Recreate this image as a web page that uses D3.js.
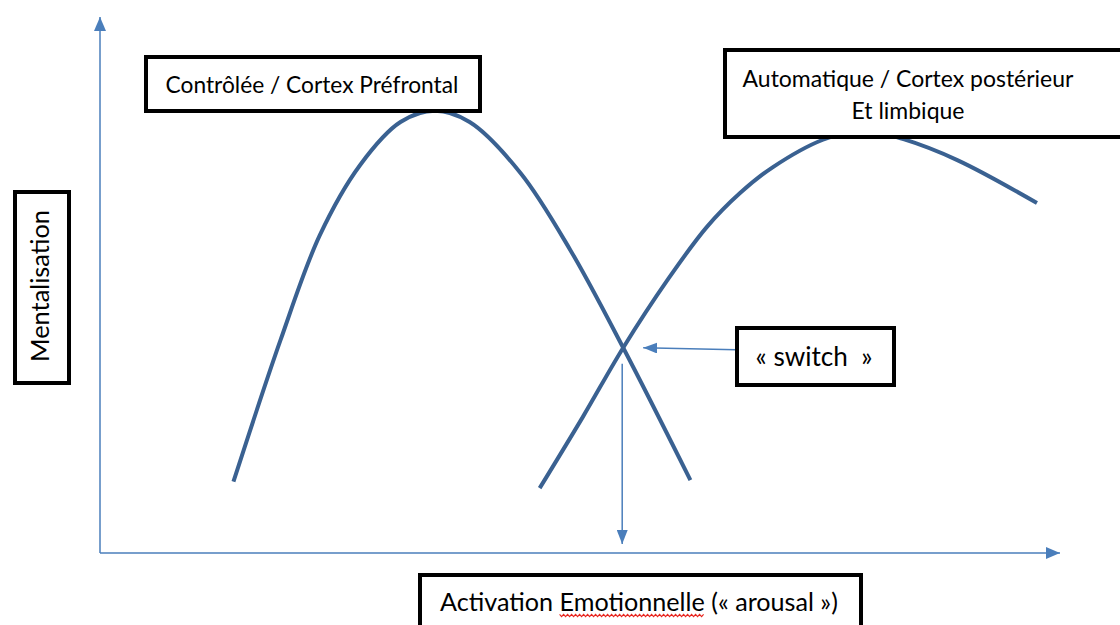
<!DOCTYPE html>
<html>
<head>
<meta charset="utf-8">
<script src="https://cdn.jsdelivr.net/npm/d3@7"></script>
<style>
  html, body { margin: 0; padding: 0; background: #fff; }
  svg text { font-family: Lato, "Open Sans", sans-serif; fill: #000; }
</style>
</head>
<body>
<div id="chart"></div>
<script>
// ---- data (arousal on x, mentalisation on y, arbitrary 0-10 units)
var controleeX = [1.39, 1.88, 2.29, 2.71, 3.13, 3.49, 3.85, 4.38, 4.90, 5.45, 6.15];
var controleeY = [1.33, 3.97, 5.93, 7.24, 8.04, 8.25, 8.04, 7.09, 5.65, 3.83, 1.36];

var automatiqueX = [4.58, 5.03, 5.45, 5.91, 6.32, 6.67, 7.01, 7.53, 7.95, 8.37, 8.93, 9.76];
var automatiqueY = [1.21, 2.54, 3.83, 5.09, 6.08, 6.72, 7.20, 7.71, 7.89, 7.72, 7.33, 6.53];

var switchPoint = [5.45, 3.83];

var labels = {
  y: "Mentalisation",
  x: ["Activation ", "Emotionnelle", " (« arousal »)"],
  controlee: ["Contrôlée / Cortex Préfrontal"],
  automatique: ["Automatique / Cortex postérieur", "Et limbique"],
  sw: "« switch  »"
};

var width = 1120, height = 625;
var axisBlue = "#4a7ebb", curveBlue = "#3a6191";

var svg = d3.select("#chart").append("svg")
  .attr("width", width)
  .attr("height", height);

var x = d3.scaleLinear().domain([0, 10]).range([100, 1060]);
var y = d3.scaleLinear().domain([0, 10]).range([553, 17]);

// arrow heads
var defs = svg.append("defs");
function arrowMarker(id, len, half) {
  defs.append("marker")
    .attr("id", id)
    .attr("markerUnits", "userSpaceOnUse")
    .attr("viewBox", `0 ${-half} ${len} ${half * 2}`)
    .attr("refX", len).attr("refY", 0)
    .attr("markerWidth", len).attr("markerHeight", half * 2)
    .attr("orient", "auto")
    .append("path")
    .attr("d", `M0,${-half}L${len},0L0,${half}Z`)
    .attr("fill", axisBlue);
}
arrowMarker("axisHead", 14, 6);
arrowMarker("smallHead", 14, 5.5);

// ---- axes (plain arrows, no ticks)
svg.append("line")
  .attr("x1", x(0)).attr("y1", y(0))
  .attr("x2", x(0)).attr("y2", y(10))
  .attr("stroke", axisBlue).attr("stroke-width", 1.5)
  .attr("marker-end", "url(#axisHead)");
svg.append("line")
  .attr("x1", x(0)).attr("y1", y(0))
  .attr("x2", x(10)).attr("y2", y(0))
  .attr("stroke", axisBlue).attr("stroke-width", 1.5)
  .attr("marker-end", "url(#axisHead)");

// ---- curves
var line = d3.line()
  .x(d => x(d[0]))
  .y(d => y(d[1]))
  .curve(d3.curveCatmullRom.alpha(0.5));

[[controleeX, controleeY], [automatiqueX, automatiqueY]].forEach(function(s) {
  svg.append("path")
    .datum(d3.zip(s[0], s[1]))
    .attr("d", line)
    .attr("fill", "none")
    .attr("stroke", curveBlue)
    .attr("stroke-width", 4);
});

// ---- switch arrows
var sx = x(switchPoint[0]), sy = y(switchPoint[1]);
svg.append("line")
  .attr("x1", sx - 1).attr("y1", sy + 16)
  .attr("x2", sx - 1).attr("y2", y(0) - 9)
  .attr("stroke", axisBlue).attr("stroke-width", 1.5)
  .attr("marker-end", "url(#smallHead)");
svg.append("line")
  .attr("x1", 736).attr("y1", sy + 2)
  .attr("x2", sx + 20).attr("y2", sy)
  .attr("stroke", axisBlue).attr("stroke-width", 1.5)
  .attr("marker-end", "url(#smallHead)");

// ---- boxes with text
function box(x0, y0, w, h) {
  return svg.append("rect")
    .attr("x", x0).attr("y", y0)
    .attr("width", w).attr("height", h)
    .attr("fill", "#fff")
    .attr("stroke", "#000")
    .attr("stroke-width", 4);
}

// shrink/grow font so a text spans the wanted width
function fit(t, w) {
  var fs = parseFloat(t.style("font-size"));
  var len = t.node().getComputedTextLength();
  t.style("font-size", (fs * w / len).toFixed(2) + "px");
}

box(146, 57, 334, 54);
var t1 = svg.append("text")
  .attr("x", 312).attr("y", 93)
  .attr("text-anchor", "middle")
  .style("font-size", "22px")
  .text(labels.controlee[0]);
fit(t1, 293);

box(725, 50, 400, 87);
var t2 = svg.append("text")
  .attr("x", 908).attr("y", 87)
  .attr("text-anchor", "middle")
  .style("font-size", "22px")
  .text(labels.automatique[0]);
fit(t2, 331);
svg.append("text")
  .attr("x", 908).attr("y", 119)
  .attr("text-anchor", "middle")
  .style("font-size", t2.style("font-size"))
  .text(labels.automatique[1]);

box(15, 192, 54, 191);
var ty = svg.append("text")
  .attr("transform", "translate(49,286) rotate(-90)")
  .attr("text-anchor", "middle")
  .style("font-size", "22px")
  .text(labels.y);
fit(ty, 152);

box(737, 328, 157, 57);
var ts = svg.append("text")
  .attr("x", 814).attr("y", 366)
  .attr("text-anchor", "middle")
  .style("font-size", "22px")
  .style("white-space", "pre")
  .text(labels.sw);
fit(ts, 117);

box(420, 575, 441, 60);
var tx = svg.append("text")
  .attr("x", 639).attr("y", 611)
  .attr("text-anchor", "middle")
  .style("font-size", "22px")
  .style("white-space", "pre");
tx.selectAll("tspan").data(labels.x).enter().append("tspan").text(d => d);
fit(tx, 398);

// spell-check squiggle under the second word
var n = tx.node();
var i0 = labels.x[0].length, i1 = i0 + labels.x[1].length - 1;
var ux0 = n.getStartPositionOfChar(i0).x, ux1 = n.getEndPositionOfChar(i1).x;
var pts = [];
for (var k = 0; ux0 + k * 2 <= ux1; k++) pts.push([ux0 + k * 2, 615.5 + (k % 2 ? 1.2 : -1.2)]);
svg.append("path")
  .attr("d", d3.line()(pts))
  .attr("fill", "none")
  .attr("stroke", "#e8261f")
  .attr("stroke-width", 1.1);
</script>
</body>
</html>
